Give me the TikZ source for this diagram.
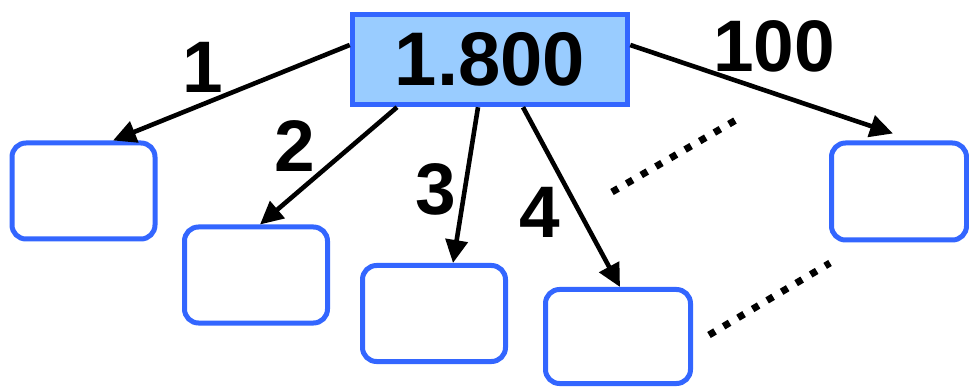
\documentclass[tikz,border=0pt]{standalone}
\usepackage{fontspec}
\setmainfont{Liberation Sans}
\usetikzlibrary{arrows.meta,calc}
\definecolor{bblue}{RGB}{51,102,255}
\definecolor{lblue}{RGB}{153,204,255}
\begin{document}
\begin{tikzpicture}[x=1pt,y=-1pt,
  leaf/.style={draw=bblue,line width=5pt,rounded corners=14pt,minimum width=143pt,minimum height=96pt,inner sep=0pt},
  conn/.style={line width=4.6pt,-{Triangle[length=23pt,width=22pt]}},
  lbl/.style={font=\fontsize{73pt}{73pt}\selectfont\bfseries,anchor=base,inner sep=0pt},
  dotline/.style={line width=7pt,dash pattern=on 7pt off 9.9pt}]
\useasboundingbox (0,0) rectangle (969,387);
\node[draw=bblue,fill=lblue,line width=5.5pt,minimum width=275pt,minimum height=90pt,inner sep=0pt,
      font=\fontsize{76pt}{76pt}\selectfont\bfseries] (top) at (490,59.5) {1.800};
\node[leaf] (b1) at (83.5,191) {};
\node[leaf] (b2) at (256,275) {};
\node[leaf] (b3) at (434,313.5) {};
\node[leaf,minimum width=145pt,minimum height=94pt] (b4) at (618,336.5) {};
\node[leaf,minimum width=135pt,minimum height=97pt] (b5) at (899,191.5) {};
\draw[conn] ([yshift=14.5pt]top.west) -- ([xshift=29.5pt]b1.north);
\draw[conn] ([xshift=-93pt]top.south) -- ([xshift=4pt]b2.north);
\draw[conn] ([xshift=-12pt]top.south) -- ([xshift=19pt]b3.north);
\draw[conn] ([xshift=33pt]top.south) -- ([xshift=2pt]b4.north);
\draw[conn] ([yshift=14.5pt]top.east) -- ([xshift=-6pt,yshift=7pt]b5.north);
\node[lbl] (l1) at (203,93) {1};
\node[lbl] (l2) at (295,172) {2};
\node[lbl] (l3) at (436,215) {3};
\node[lbl] (l4) at (540,238) {4};
\node[lbl] (l100) at (774,72) {100};
\coordinate (d1a) at (612,192);
\coordinate (d1b) at (736,120);
\coordinate (d2a) at (709,335);
\coordinate (d2b) at (830,263);
\draw[dotline] (d1a) -- (d1b);
\draw[dotline] (d2a) -- (d2b);
\end{tikzpicture}
\end{document}
